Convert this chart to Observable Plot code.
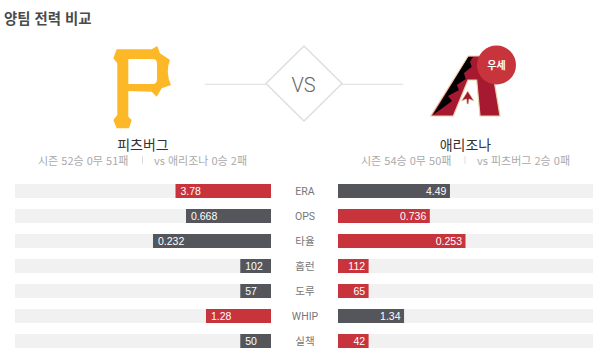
<!DOCTYPE html>
<html lang="ko">
<head>
<meta charset="utf-8">
<script src="https://cdn.jsdelivr.net/npm/d3@7"></script>
<script src="https://cdn.jsdelivr.net/npm/@observablehq/plot@0.6"></script>
<style>
html,body{margin:0;padding:0;background:#fff;width:600px;height:356px;overflow:hidden}
#head{position:relative;width:600px;height:175px;font-family:"Noto Sans CJK KR","Noto Sans",sans-serif}
#head div{position:absolute;white-space:nowrap}
#title{left:4px;top:6px;font-size:14.4px;line-height:24px;font-weight:700;color:#4a4a4a}
.name{top:134px;width:200px;text-align:center;font-size:14px;line-height:20px;color:#333}
.rec{top:151px;font-size:11px;line-height:18px;color:#aaa}
#head svg{position:absolute;left:0;top:0}
#chart svg{display:block}
</style>
</head>
<body>
<div id="head">
<svg width="600" height="175">
<path d="M116.700 49.300 L151.700 49.300 L157.300 46 L160 53.300 L170 60 Q165 72 171 85 L161.700 88.300 L156.700 96.700 L151.700 91.700 L128.300 91 L128.300 116.700 L131.700 120 L129 128.300 L116.700 128.300 L113.300 120 L117.300 115 L117.300 63.300 L113.300 58.300Z" fill="#fdb827"/>
<path d="M128.300 59 L153 59 Q157 59 157 64 L157 79 Q157 84 153 84 L128.300 84Z" fill="#fff"/>
<line x1="205" y1="84.300" x2="266" y2="84.300" stroke="#ddd"/>
<line x1="341" y1="84.300" x2="403" y2="84.300" stroke="#ddd"/>
<path d="M304 46 L342 83.500 L304 121 L266 83.500Z" fill="none" stroke="#ddd" stroke-width="1.300"/>
<line x1="142.500" y1="156" x2="142.500" y2="164" stroke="#ddd"/>
<line x1="465" y1="156" x2="465" y2="164" stroke="#ddd"/>
<path d="M430.700 116 L468.300 56 L490 56 L500 116 L480 116 L476.700 80 L468 80 L453.300 116Z" fill="#a71930" stroke="#e3d4ad" stroke-width="1.200"/>
<path d="M433 115 L468.300 57 L473 57 L470 61.700 L471.700 66.700 L464 73 L465.700 79 L456.700 85 L459 90 L448 96 L452 101Z" fill="#000"/>
<path d="M467.700 91 L474 101 L469 99 L468.500 104 L467 104 L466.500 99 L461.500 101Z" fill="#a71930" stroke="#e3d4ad" stroke-width=".700"/>
<circle cx="496.500" cy="65" r="19.500" fill="#c8343c"/>
<text x="496.500" y="69" text-anchor="middle" font-size="10" font-weight="700" fill="#fff" font-family="Noto Sans CJK KR">우세</text>
<text x="303.500" y="91.700" text-anchor="middle" font-size="20" font-weight="300" fill="#666" font-family="Roboto">VS</text>
</svg>
<div id="title">양팀 전력 비교</div>
<div class="name" style="left:43px">피츠버그</div>
<div class="name" style="left:365.500px">애리조나</div>
<div class="rec" style="left:38px">시즌 52승 0무 51패</div>
<div class="rec" style="left:154px">vs 애리조나 0승 2패</div>
<div class="rec" style="left:361px">시즌 54승 0무 50패</div>
<div class="rec" style="left:477px">vs 피츠버그 2승 0패</div>
</div>
<div id="chart"></div>
<script>
const metrics = ["ERA","OPS","타율","홈런","도루","WHIP","실책"];
const pittLabels = ["3.78","0.668","0.232","102","57","1.28","50"];
const ariLabels = ["4.49","0.736","0.253","112","65","1.34","42"];
// share of the track each bar fills
const pittShare = [37.3,33.2,46.1,12,12,25.4,12];
const ariShare = [43.9,36,50,12,12,25.9,12];
const pittWins = [true,false,false,false,false,true,false];
const ariWins = [false,true,true,true,true,false,true];
const RED = "#c8343c", DARK = "#54565c", TRACK = "#f1f1f1";
const EDGE = 1e-6;

const rows = metrics.flatMap((m,i)=>[
  {metric:m, side:-1, share:pittShare[i], label:pittLabels[i], win:pittWins[i]},
  {metric:m, side:1, share:ariShare[i], label:ariLabels[i], win:ariWins[i]}
]);
const left = rows.filter(d=>d.side<0), right = rows.filter(d=>d.side>0);
const valueFont = {fill:"#fff", fontSize:10.500, fontFamily:"'Liberation Sans',sans-serif"};
const chart = Plot.plot({
  width:600, height:181, margin:0,
  x:{type:"linear", domain:[-100,-EDGE,EDGE,100], range:[15,271,338,593], axis:null},
  y:{type:"band", domain:metrics, range:[7,175], paddingInner:0.453, paddingOuter:0, axis:null},
  style:{background:"transparent"},
  marks:[
    Plot.barX(rows,{x1:d=>d.side*EDGE, x2:d=>d.side*100, y:"metric", fill:TRACK}),
    Plot.barX(rows,{x1:d=>d.side*EDGE, x2:d=>d.side*d.share, y:"metric", fill:d=>d.win?RED:DARK}),
    Plot.text(left,{x:d=>d.side*d.share, y:"metric", text:"label", textAnchor:"start", dx:4.500, ...valueFont}),
    Plot.text(right,{x:d=>d.side*d.share, y:"metric", text:"label", textAnchor:"end", dx:-4, ...valueFont}),
    Plot.text(metrics,{x:()=>0, y:d=>d, text:d=>d, fill:"#777", fontSize:10.500, fontFamily:"'Roboto','Noto Sans CJK KR',sans-serif"})
  ]
});
document.getElementById("chart").appendChild(chart);
</script>
</body>
</html>
